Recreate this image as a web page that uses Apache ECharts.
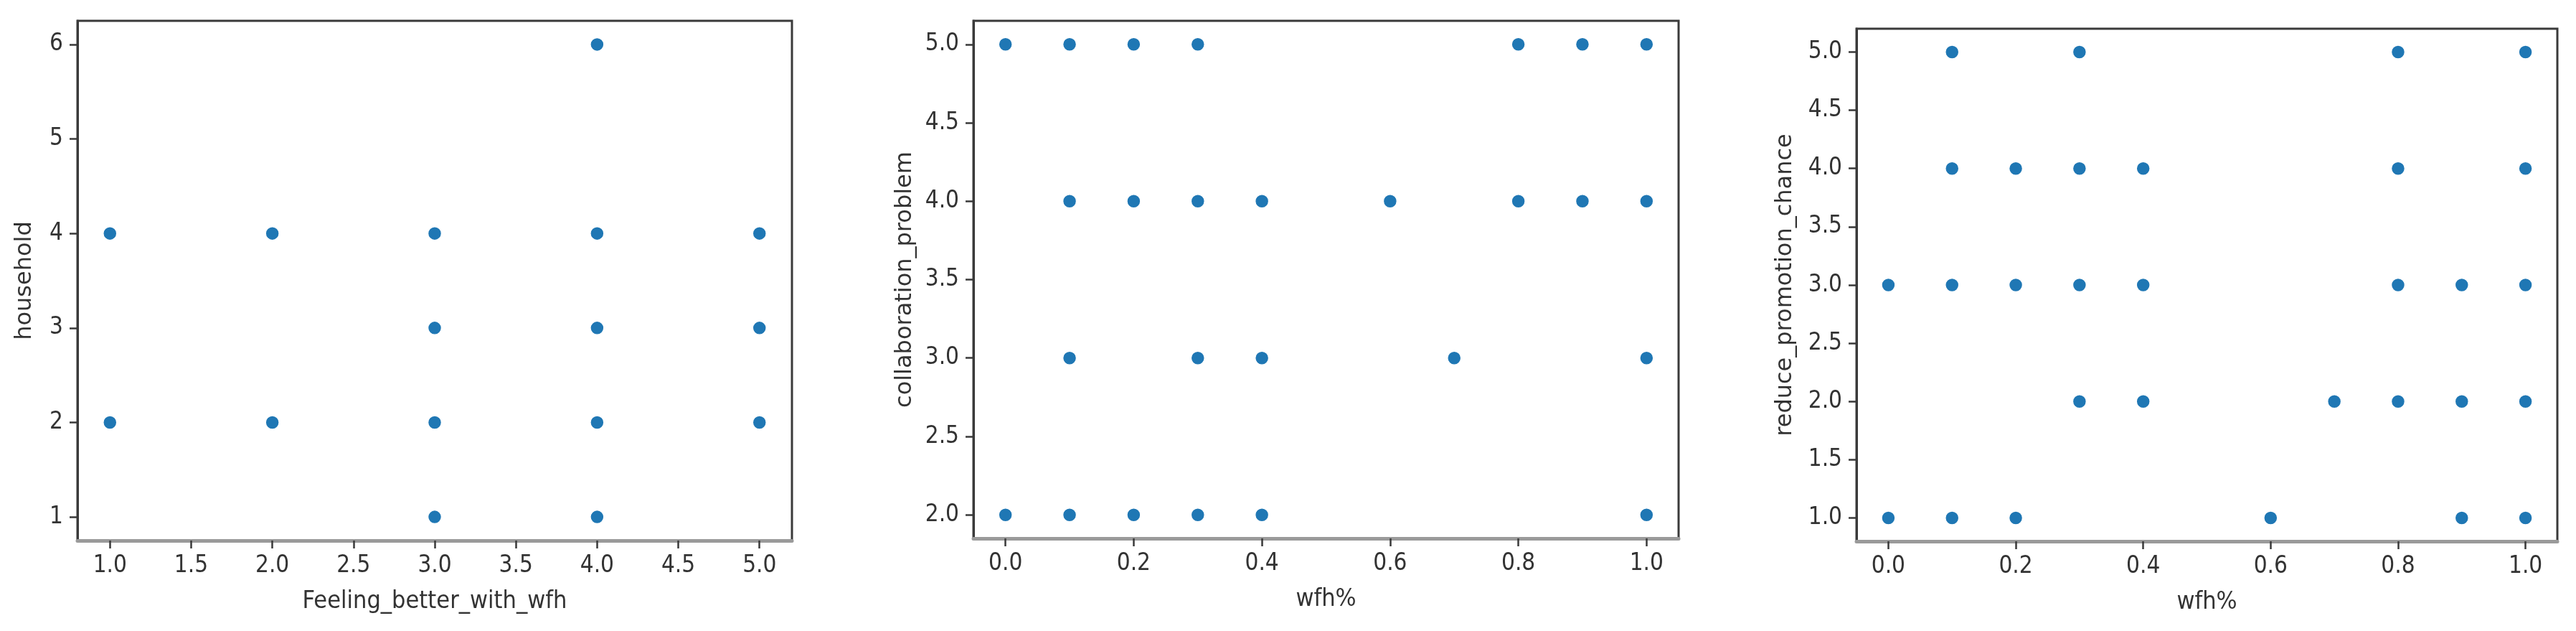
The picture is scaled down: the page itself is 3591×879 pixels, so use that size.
<!DOCTYPE html>
<html>
<head>
<meta charset="utf-8">
<script src="https://cdn.jsdelivr.net/npm/echarts@6/dist/echarts.min.js"></script>
<style>
html,body{margin:0;padding:0;background:#fff;}
#chart{width:3591px;height:879px;}
</style>
</head>
<body>
<div id="chart"></div>
<script>
// ---- data ----
const feelingBetter = [1, 1, 2, 2, 3, 3, 3, 3, 4, 4, 4, 4, 4, 5, 5, 5];
const household     = [4, 2, 4, 2, 4, 3, 2, 1, 6, 4, 3, 2, 1, 4, 3, 2];

const wfhCollab = [0.0, 0.1, 0.2, 0.3, 0.8, 0.9, 1.0,
                   0.1, 0.2, 0.3, 0.4, 0.6, 0.8, 0.9, 1.0,
                   0.1, 0.3, 0.4, 0.7, 1.0,
                   0.0, 0.1, 0.2, 0.3, 0.4, 1.0];
const collaborationProblem = [5, 5, 5, 5, 5, 5, 5,
                              4, 4, 4, 4, 4, 4, 4, 4,
                              3, 3, 3, 3, 3,
                              2, 2, 2, 2, 2, 2];

const wfhPromo = [0.1, 0.3, 0.8, 1.0,
                  0.1, 0.2, 0.3, 0.4, 0.8, 1.0,
                  0.0, 0.1, 0.2, 0.3, 0.4, 0.8, 0.9, 1.0,
                  0.3, 0.4, 0.7, 0.8, 0.9, 1.0,
                  0.0, 0.1, 0.2, 0.6, 0.9, 1.0];
const reducePromotionChance = [5, 5, 5, 5,
                               4, 4, 4, 4, 4, 4,
                               3, 3, 3, 3, 3, 3, 3, 3,
                               2, 2, 2, 2, 2, 2,
                               1, 1, 1, 1, 1, 1];

// tick labels
const xTicksFeeling = [1.0, 1.5, 2.0, 2.5, 3.0, 3.5, 4.0, 4.5, 5.0];
const yTicksHousehold = [1, 2, 3, 4, 5, 6];
const xTicksWfh = [0.0, 0.2, 0.4, 0.6, 0.8, 1.0];
const yTicksCollab = [2.0, 2.5, 3.0, 3.5, 4.0, 4.5, 5.0];
const yTicksPromo = [1.0, 1.5, 2.0, 2.5, 3.0, 3.5, 4.0, 4.5, 5.0];

const axisNames = {
  x1: 'Feeling_better_with_wfh', y1: 'household',
  x2: 'wfh%', y2: 'collaboration_problem',
  x3: 'wfh%', y3: 'reduce_promotion_chance'
};

// ---- styling ----
const NARROW = "'DejaVu Sans Condensed','DejaVu Sans',sans-serif";
const REG = "'DejaVu Sans',sans-serif";
const TXT = '#333';
const SPINE = '#3a3a3a';

function zip(a, b) { return a.map((v, i) => [v, b[i]]); }

function xAxis(idx, min, max, ticks, fmt, name) {
  return {
    type: 'value', gridIndex: idx, min: min, max: max,
    name: name, nameLocation: 'middle', nameGap: 68,
    nameTextStyle: { fontFamily: NARROW, fontSize: 34, color: TXT },
    splitLine: { show: false },
    axisLine: { show: true, onZero: false, lineStyle: { color: '#9a9a9a', width: 5 } },
    axisTick: { show: true, customValues: ticks, length: 11, lineStyle: { color: SPINE, width: 2.5 } },
    axisLabel: { customValues: ticks, margin: 19, fontFamily: NARROW, fontSize: 33, color: TXT,
                 formatter: fmt, showMinLabel: true, showMaxLabel: true, hideOverlap: false }
  };
}
function yAxis(idx, min, max, ticks, fmt, name, gap) {
  return {
    type: 'value', gridIndex: idx, min: min, max: max,
    name: name, nameLocation: 'middle', nameGap: gap, nameRotate: 90,
    nameTextStyle: { fontFamily: REG, fontSize: 32, color: TXT },
    splitLine: { show: false },
    axisLine: { show: true, onZero: false, lineStyle: { color: SPINE, width: 3 } },
    axisTick: { show: true, customValues: ticks, length: 11, lineStyle: { color: SPINE, width: 2.5 } },
    axisLabel: { customValues: ticks, margin: 20, fontFamily: NARROW, fontSize: 33, color: TXT,
                 formatter: fmt, showMinLabel: true, showMaxLabel: true, hideOverlap: false }
  };
}
const f1 = v => Number(v).toFixed(1);
const f0 = v => String(Math.round(v));

function scatter(idx, data) {
  return {
    type: 'scatter', xAxisIndex: idx, yAxisIndex: idx, data: data,
    symbol: 'circle', symbolSize: 19,
    itemStyle: { color: '#1f77b4', borderColor: '#ffffff', borderWidth: 1.5, opacity: 1 },
    emphasis: { disabled: true }, silent: true, animation: false
  };
}

const gridStyle = { show: true, borderColor: SPINE, borderWidth: 3, backgroundColor: 'transparent', containLabel: false };

const option = {
  backgroundColor: '#ffffff',
  animation: false,
  grid: [
    Object.assign({ left: 108, top: 29, width: 996, height: 724 }, gridStyle),
    Object.assign({ left: 1357, top: 29, width: 983, height: 721 }, gridStyle),
    Object.assign({ left: 2588, top: 40, width: 977, height: 714 }, gridStyle)
  ],
  xAxis: [
    xAxis(0, 0.8, 5.2, xTicksFeeling, f1, axisNames.x1),
    xAxis(1, -0.05, 1.05, xTicksWfh, f1, axisNames.x2),
    xAxis(2, -0.05, 1.05, xTicksWfh, f1, axisNames.x3)
  ],
  yAxis: [
    yAxis(0, 0.75, 6.25, yTicksHousehold, f0, axisNames.y1, 57),
    yAxis(1, 1.85, 5.15, yTicksCollab, f1, axisNames.y2, 79),
    yAxis(2, 0.8, 5.2, yTicksPromo, f1, axisNames.y3, 83)
  ],
  series: [
    scatter(0, zip(feelingBetter, household)),
    scatter(1, zip(wfhCollab, collaborationProblem)),
    scatter(2, zip(wfhPromo, reducePromotionChance))
  ]
};

const chart = echarts.init(document.getElementById('chart'), null, { renderer: 'canvas' });
chart.setOption(option);
</script>
</body>
</html>
